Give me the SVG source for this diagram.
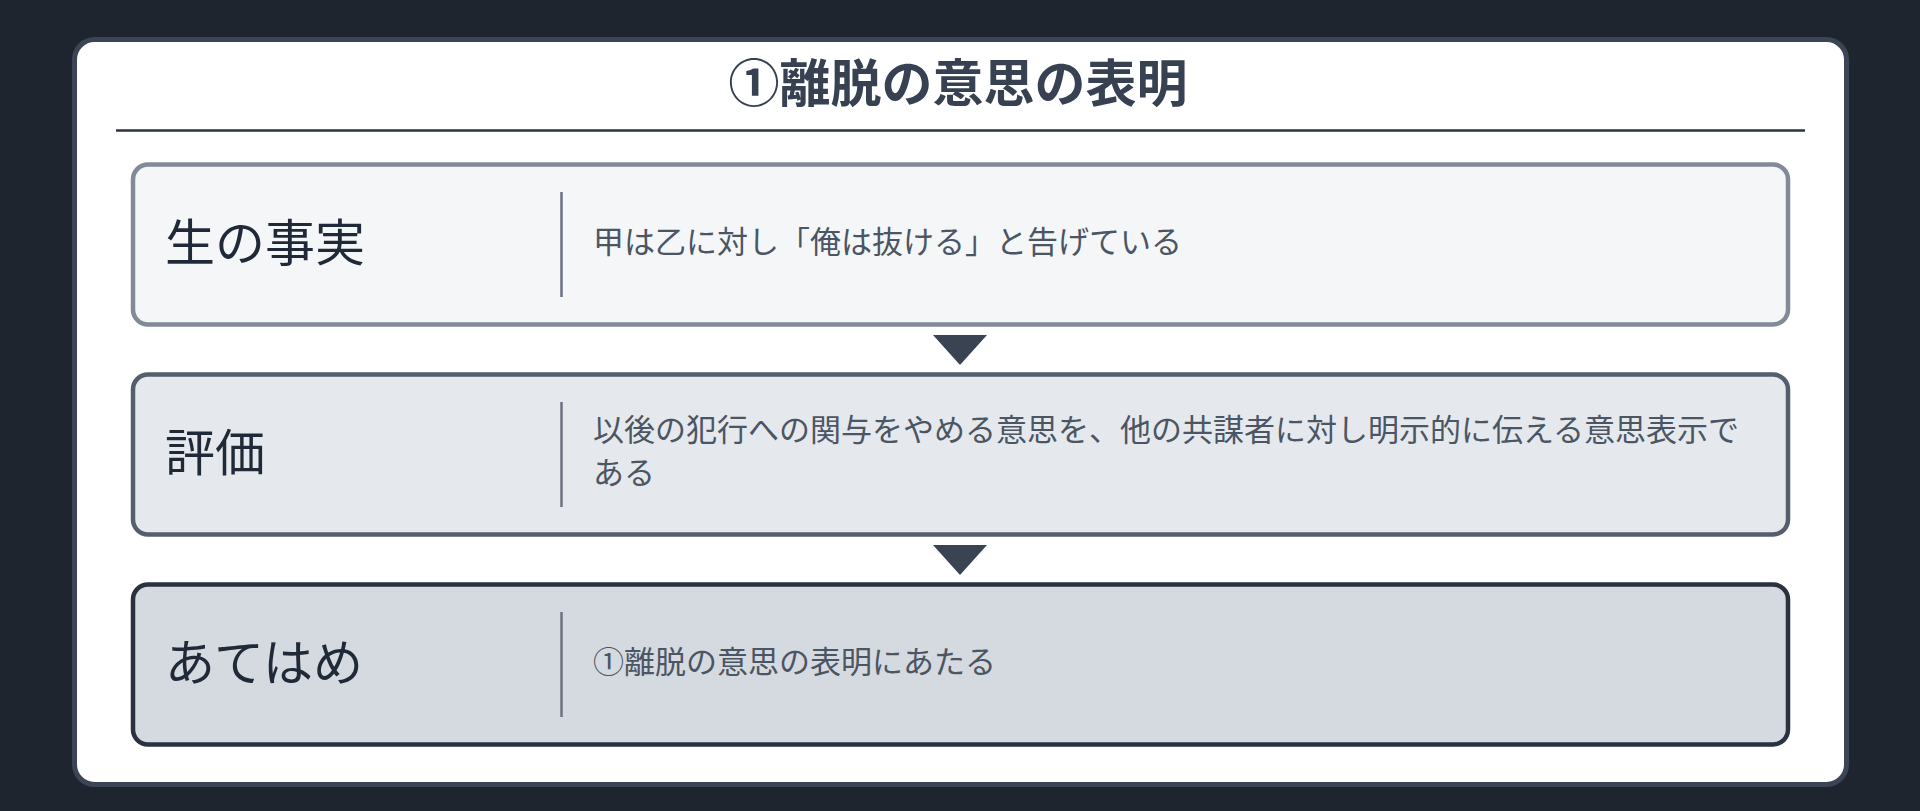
<svg xmlns="http://www.w3.org/2000/svg" width="1920" height="811" viewBox="0 0 1920 811">
  <style>
    .jp { font-family: "Noto Sans CJK JP", "Noto Sans", sans-serif; }
    .title { font-size: 51px; font-weight: 700; fill: #374151; }
    .label { font-size: 50px; fill: #1f2937; }
    .body { font-size: 31px; fill: #4b5563; }
    .divider { stroke: #6b7280; stroke-width: 2.5; }
    .arrow { fill: #3a4352; }
  </style>
  <rect x="0" y="0" width="1920" height="811" fill="#1e252f"/>

  <g id="card">
    <rect x="74.5" y="39.5" width="1772" height="745" rx="20" fill="#ffffff" stroke="#3b4555" stroke-width="5"/>
    <text class="jp title" x="958" y="79.5" text-anchor="middle" dominant-baseline="central">①離脱の意思の表明</text>
    <line x1="116" y1="130.5" x2="1805" y2="130.5" stroke="#2b3240" stroke-width="2.5"/>
  </g>

  <g id="node-fact">
    <rect x="133" y="164.5" width="1655" height="160" rx="15" fill="#f4f6f8" stroke="#828a97" stroke-width="4.5"/>
    <text class="jp label" x="165" y="239" dominant-baseline="central">生の事実</text>
    <line class="divider" x1="561.5" y1="192" x2="561.5" y2="297"/>
    <text class="jp body" x="593" y="239" dominant-baseline="central">甲は乙に対し「俺は抜ける」と告げている</text>
  </g>

  <g id="node-evaluation">
    <rect x="133" y="374.5" width="1655" height="160" rx="15" fill="#e5e8ec" stroke="#555e6c" stroke-width="4.5"/>
    <text class="jp label" x="165" y="449" dominant-baseline="central">評価</text>
    <line class="divider" x1="561.5" y1="402" x2="561.5" y2="507"/>
    <text class="jp body" x="593" y="427" dominant-baseline="central">以後の犯行への関与をやめる意思を、他の共謀者に対し明示的に伝える意思表示で</text>
    <text class="jp body" x="593" y="470" dominant-baseline="central">ある</text>
  </g>

  <g id="node-application">
    <rect x="133" y="584.5" width="1655" height="160" rx="15" fill="#d5d9e0" stroke="#2a3240" stroke-width="4.5"/>
    <text class="jp label" x="165" y="659" dominant-baseline="central">あてはめ</text>
    <line class="divider" x1="561.5" y1="612" x2="561.5" y2="717"/>
    <text class="jp body" x="593" y="659" dominant-baseline="central">①離脱の意思の表明にあたる</text>
  </g>

  <g id="connectors">
    <polygon class="arrow" points="933,335 987,335 960,365"/>
    <polygon class="arrow" points="933,545 987,545 960,575"/>
  </g>
</svg>
